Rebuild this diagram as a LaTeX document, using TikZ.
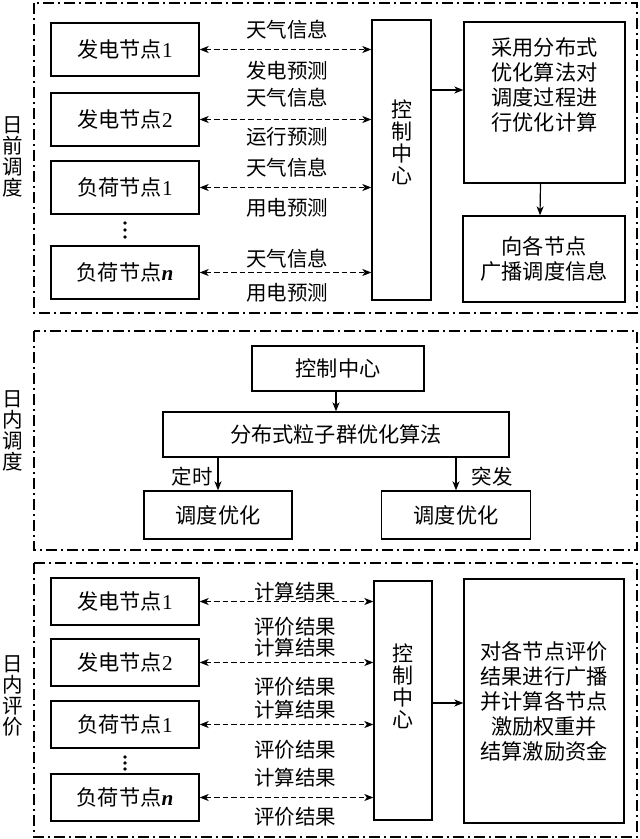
\documentclass[tikz,border=0pt]{standalone}
\usepackage{fontspec}
\setmainfont{Liberation Serif}
\newfontfamily\cjk{Noto Sans CJK SC}
\usetikzlibrary{arrows.meta,calc}
\tikzset{
  box/.style={draw, line width=1.3pt, inner sep=0pt, align=center,
    font=\cjk\fontsize{21.2}{25}\selectfont},
  lbl/.style={inner sep=0pt, font=\cjk\fontsize{20.5}{24}\selectfont},
  side/.style={inner sep=0pt, align=center, font=\cjk\fontsize{20.5}{21}\selectfont},
  frame/.style={line width=1.4pt, dash pattern=on 11pt off 4pt on 2pt off 4pt},
  tip/.tip={Stealth[length=9pt,width=7pt,inset=2.5pt]},
  arr/.style={line width=1.2pt, -tip},
  darr/.style={line width=1.2pt, dash pattern=on 5.5pt off 3pt, tip-tip},
}
\newcommand{\dg}[1]{\textrm{#1}}
\newcommand{\nn}{\textrm{\textbf{\textit{n}}}}
\begin{document}
\begin{tikzpicture}[x=1pt,y=-1pt]
\useasboundingbox (0,0) rectangle (640,839);
\fill[white] (0,0) rectangle (640,839);

% ---------- frames ----------
\draw[frame] (34,3) rectangle (637,313);
\draw[frame] (34,331) rectangle (637,550);
\draw[frame] (34,563) rectangle (637,837);

\node[side] (s1) at (13,157) {日\\前\\调\\度};
\node[side] (s2) at (13,431) {日\\内\\调\\度};
\node[side] (s3) at (13,696) {日\\内\\评\\价};

% ---------- panel 1 ----------
\node[box, minimum width=148pt, minimum height=53pt] (a1) at (125,49.5) {发电节点\dg{1}};
\node[box, minimum width=148pt, minimum height=53pt] (a2) at (125,119.5) {发电节点\dg{2}};
\node[box, minimum width=148pt, minimum height=53pt] (a3) at (125,187.5) {负荷节点\dg{1}};
\node[box, minimum width=148pt, minimum height=53pt] (a4) at (125,272.5) {负荷节点\nn};
\fill (125,223) circle (1.8pt) (125,230) circle (1.8pt) (125,237) circle (1.8pt);

\node[box, minimum width=59pt, minimum height=280pt, font=\cjk\fontsize{21}{22}\selectfont] (cc1) at (401.5,160) {控\\制\\中\\心\\[14pt]};
\node[box, minimum width=161pt, minimum height=161pt] (alg) at (544.5,102.5) {采用分布式\\优化算法对\\调度过程进\\行优化计算\\[12pt]};
\node[box, minimum width=162pt, minimum height=86pt] (bc) at (544,259) {向各节点\\广播调度信息};

\foreach \n in {a1,a2,a3,a4} {\draw[darr] (\n.east) -- (\n.east -| cc1.west);}
\node[lbl] (t1a) at (287,30) {天气信息};
\node[lbl] (t1b) at (287,71) {发电预测};
\node[lbl] (t2a) at (287,98) {天气信息};
\node[lbl] (t2b) at (287,137) {运行预测};
\node[lbl] (t3a) at (287,168) {天气信息};
\node[lbl] (t3b) at (287,208) {用电预测};
\node[lbl] (t4a) at (287,259) {天气信息};
\node[lbl] (t4b) at (287,293) {用电预测};

\coordinate (p1) at ($(alg.west)+(0,-12.5)$);
\draw[arr] (cc1.east |- p1) -- (p1);
\draw[arr] ([xshift=-4pt]alg.south) -- ([xshift=-4pt]bc.north);

% ---------- panel 2 ----------
\node[box, minimum width=172pt, minimum height=45pt] (cc2) at (338,368.5) {控制中心};
\node[box, minimum width=346pt, minimum height=45pt] (pso) at (336,434.5) {分布式粒子群优化算法};
\node[box, minimum width=148pt, minimum height=48pt] (o1) at (218,515) {调度优化};
\node[box, minimum width=149pt, minimum height=48pt] (o2) at (456,515) {调度优化};
\draw[arr] (cc2.south -| pso.north) -- (pso.north);
\draw[arr] (o1.north |- pso.south) -- (o1.north);
\draw[arr] (o2.north |- pso.south) -- (o2.north);
\node[lbl] (ds) at (192,477) {定时};
\node[lbl] (tf) at (492,477) {突发};

% ---------- panel 3 ----------
\node[box, minimum width=148pt, minimum height=47pt] (b1) at (125,601.5) {发电节点\dg{1}};
\node[box, minimum width=148pt, minimum height=47pt] (b2) at (125,662.5) {发电节点\dg{2}};
\node[box, minimum width=148pt, minimum height=47pt] (b3) at (125,724.5) {负荷节点\dg{1}};
\node[box, minimum width=148pt, minimum height=47pt] (b4) at (125,797.5) {负荷节点\nn};
\fill (125,757) circle (1.8pt) (125,763) circle (1.8pt) (125,769) circle (1.8pt);

\node[box, minimum width=58pt, minimum height=239pt, font=\cjk\fontsize{21}{22}\selectfont] (cc3) at (403,700.5) {控\\制\\中\\心\\[8pt]};
\node[box, minimum width=160pt, minimum height=244pt] (res) at (544,701) {对各节点评价\\结果进行广播\\并计算各节点\\激励权重并\\结算激励资金};

\foreach \n in {b1,b2,b3,b4} {\draw[darr] (\n.east) -- (\n.east -| cc3.west);}
\node[lbl] (u1a) at (295,592) {计算结果};
\node[lbl] (u1b) at (295,627) {评价结果};
\node[lbl] (u2a) at (295,648) {计算结果};
\node[lbl] (u2b) at (295,687) {评价结果};
\node[lbl] (u3a) at (295,710) {计算结果};
\node[lbl] (u3b) at (295,750) {评价结果};
\node[lbl] (u4a) at (295,778) {计算结果};
\node[lbl] (u4b) at (295,817) {评价结果};

\coordinate (p3) at ($(res.west)+(0,2)$);
\draw[arr] (cc3.east |- p3) -- (p3);
\end{tikzpicture}
\end{document}
